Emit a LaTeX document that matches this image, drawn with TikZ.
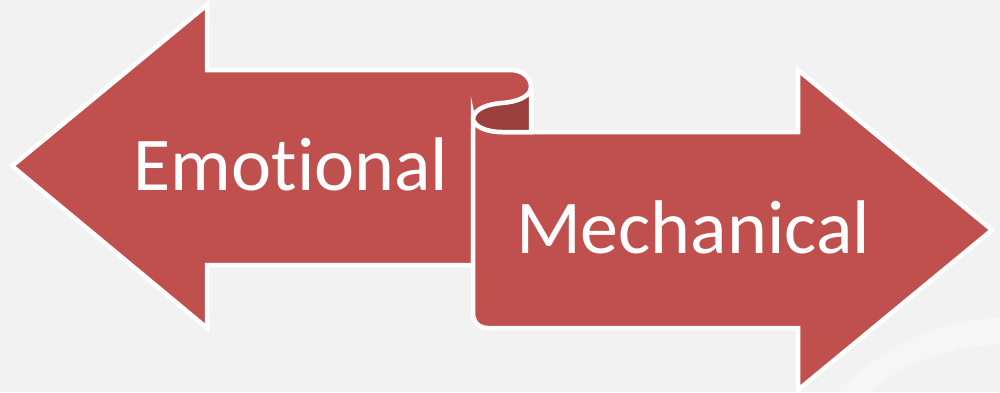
\documentclass[tikz,border=0pt]{standalone}
\usepackage{fontspec}
\setmainfont[RawFeature=-liga]{Carlito}
\definecolor{bg}{HTML}{F2F2F2}
\definecolor{arrowred}{HTML}{C0504D}
\definecolor{curldark}{HTML}{9B3F3D}
\definecolor{swoosh}{HTML}{F6F6F6}
\begin{document}
\begin{tikzpicture}[x=1pt,y=-1pt,
  band/.style={fill=arrowred,draw=white,line width=4.5pt,line join=miter},
  curl/.style={fill=curldark,draw=white,line width=4.5pt},
  label/.style={text=white,font=\fontsize{76}{80}\selectfont,anchor=base,inner sep=0pt}]
\useasboundingbox (0,0) rectangle (1000,392);
\fill[bg] (0,0) rectangle (1000,392);
\clip (0,0) rectangle (1000,392);
% faint background swoosh
\fill[swoosh] (835,392) .. controls (890,340) and (950,318) .. (1000,318) -- (1000,345) .. controls (950,345) and (900,365) .. (870,392) -- cycle;
% left arrow
\path[band] (12,166) -- (207,5) -- (207,70) -- (510,70)
  .. controls (522,70) and (531,77) .. (531,87) -- (531,132) -- (473,132)
  -- (473,265) -- (207,265) -- (207,328) -- cycle;
% right arrow
\path[band] (473,118) .. controls (473,126) and (486,132) .. (502,132)
  -- (798,132) -- (798,70) -- (992,230) -- (798,390) -- (798,328)
  -- (488,328) .. controls (479,328) and (473,322) .. (473,313) -- cycle;
% inside of the roll
\path[curl] (473,118) .. controls (475,108) and (489,104) .. (502,103)
  .. controls (516,102) and (531,97) .. (531,87) -- (531,132) -- (502,132)
  .. controls (486,132) and (473,126) .. (473,118) -- cycle;
\node[label] (emo) at (291,190) {Emotional};
\node[label] (mech) at (693,253) {Mechanical};
\end{tikzpicture}
\end{document}
